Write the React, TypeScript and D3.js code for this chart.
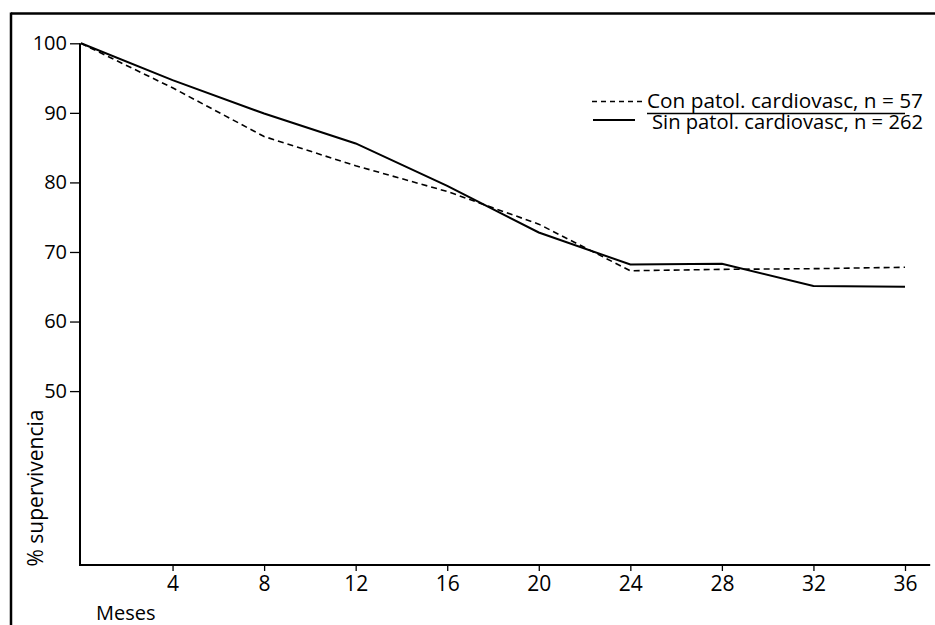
import React, { useEffect, useRef } from "react";
import * as d3 from "d3";

const months = [0, 4, 8, 12, 16, 20, 24, 28, 32, 36];
const sinPatol = [100, 94.7, 89.9, 85.6, 79.5, 72.8, 68.2, 68.3, 65.1, 65.0];
const conPatol = [100, 93.6, 86.6, 82.4, 78.7, 74.0, 67.3, 67.5, 67.6, 67.8];
const xTicks = [4, 8, 12, 16, 20, 24, 28, 32, 36];
const yTicks = [50, 60, 70, 80, 90, 100];
const legendLabels = ["Con patol. cardiovasc, n = 57", "Sin patol. cardiovasc, n = 262"];
const yLabel = "% supervivencia";
const xLabel = "Meses";

const W = 935;
const H = 625;
const FONT = "'Open Sans', 'DejaVu Sans', sans-serif";

export default function App() {
  const ref = useRef<SVGSVGElement>(null);

  useEffect(() => {
    const svg = d3.select(ref.current);
    svg.selectAll("*").remove();

    const x = d3.scaleLinear().domain([0, 36]).range([81, 905]);
    const y = d3.scaleLinear().domain([25, 100]).range([565, 43.3]);

    // frame (top and left only, as in the scan)
    svg.append("line").attr("x1", 11).attr("x2", W).attr("y1", 13.5).attr("y2", 13.5)
      .attr("stroke", "#000").attr("stroke-width", 2.5);
    svg.append("line").attr("x1", 11).attr("x2", 11).attr("y1", 12.5).attr("y2", H)
      .attr("stroke", "#000").attr("stroke-width", 2.5);

    // y axis
    const yAxis = d3.axisLeft(y).tickValues(yTicks).tickSize(10).tickPadding(3).tickFormat(d3.format("d"));
    const gy = svg.append("g").attr("transform", `translate(${x(0) - 1},0)`).call(yAxis);
    gy.select(".domain").remove();
    gy.selectAll(".tick line").attr("stroke", "#000").attr("stroke-width", 1.3);
    gy.selectAll(".tick text").attr("font-family", FONT).attr("font-size", 20).attr("fill", "#000");
    svg.append("line").attr("x1", x(0) - 1).attr("x2", x(0) - 1).attr("y1", y(100)).attr("y2", y(25) + 1)
      .attr("stroke", "#000").attr("stroke-width", 2);

    // x axis
    const xAxis = d3.axisBottom(x).tickValues(xTicks).tickSize(6).tickPadding(5).tickFormat(d3.format("d"));
    const gx = svg.append("g").attr("transform", `translate(0,${y(25)})`).call(xAxis);
    gx.select(".domain").remove();
    gx.selectAll(".tick line").attr("stroke", "#000").attr("stroke-width", 1.3);
    gx.selectAll(".tick text").attr("font-family", FONT).attr("font-size", 21).attr("fill", "#000");
    svg.append("line").attr("x1", x(0) - 2).attr("x2", x(37.1)).attr("y1", y(25)).attr("y2", y(25))
      .attr("stroke", "#000").attr("stroke-width", 2);

    // labels
    svg.append("text").attr("x", 96).attr("y", 620).attr("font-family", FONT).attr("font-size", 20)
      .attr("fill", "#000").text(xLabel);
    svg.append("text").attr("transform", `translate(43,488) rotate(-90)`).attr("text-anchor", "middle")
      .attr("font-family", FONT).attr("font-size", 21).attr("fill", "#000").text(yLabel);

    // series
    const line = d3.line<number>().x((_, i) => x(months[i])).y((d) => y(d));
    svg.append("path").attr("d", line(conPatol)).attr("fill", "none").attr("stroke", "#000")
      .attr("stroke-width", 1.6).attr("stroke-dasharray", "6,4");
    svg.append("path").attr("d", line(sinPatol)).attr("fill", "none").attr("stroke", "#000")
      .attr("stroke-width", 2);

    // legend
    const lg = svg.append("g");
    lg.append("line").attr("x1", 592).attr("x2", 644).attr("y1", 101.5).attr("y2", 101.5)
      .attr("stroke", "#000").attr("stroke-width", 1.5).attr("stroke-dasharray", "5,4");
    lg.append("text").attr("x", 647).attr("y", 108).attr("font-family", FONT).attr("font-size", 20.5)
      .attr("fill", "#000").attr("textLength", 276).attr("lengthAdjust", "spacingAndGlyphs").text(legendLabels[0]);
    lg.append("line").attr("x1", 647).attr("x2", 905).attr("y1", 113.5).attr("y2", 113.5)
      .attr("stroke", "#000").attr("stroke-width", 1.5);
    lg.append("line").attr("x1", 593).attr("x2", 635).attr("y1", 120).attr("y2", 120)
      .attr("stroke", "#000").attr("stroke-width", 1.8);
    lg.append("text").attr("x", 652).attr("y", 129).attr("font-family", FONT).attr("font-size", 20.5)
      .attr("fill", "#000").attr("textLength", 271).attr("lengthAdjust", "spacingAndGlyphs").text(legendLabels[1]);
  }, []);

  return (
    <svg
      ref={ref}
      width={W}
      height={H}
      style={{ position: "absolute", left: 0, top: 0, background: "#fff", display: "block" }}
    />
  );
}
